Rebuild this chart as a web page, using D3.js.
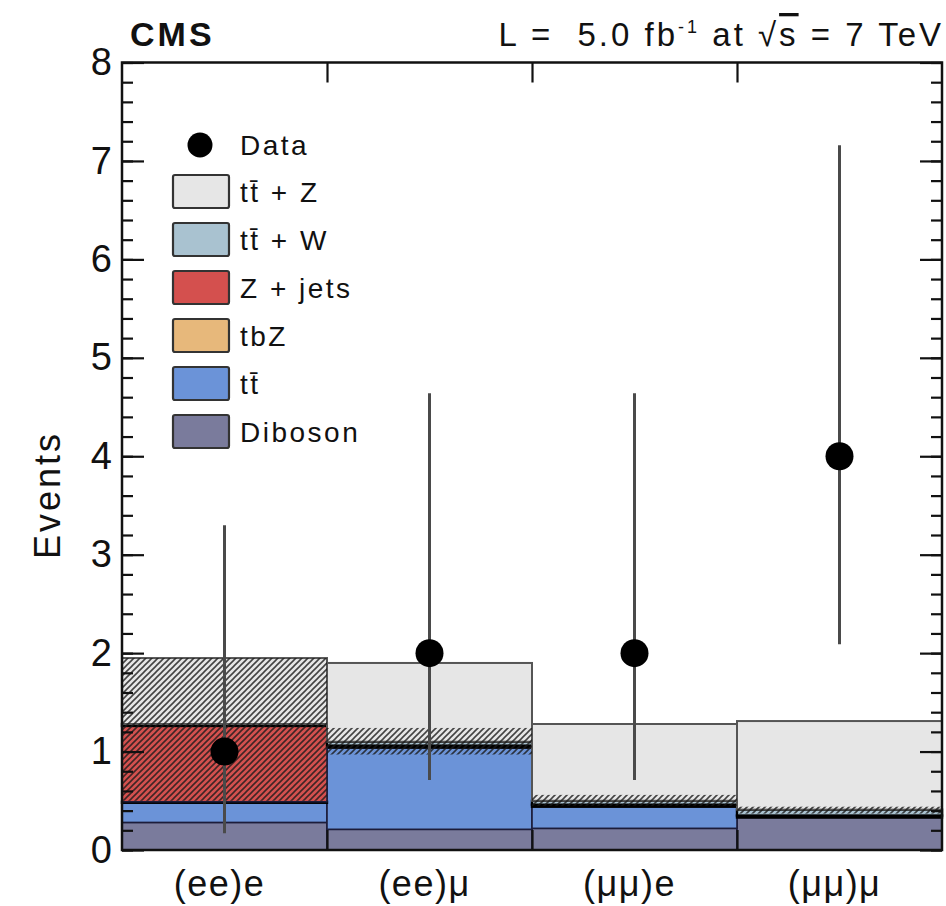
<!DOCTYPE html>
<html><head><meta charset="utf-8">
<script src="https://cdn.jsdelivr.net/npm/d3@7"></script>
<style>
body{margin:0;background:#fff}
svg{display:block}
text{font-family:"Liberation Sans",Arial,Helvetica,sans-serif;fill:#111;white-space:pre}
</style>
</head><body>
<svg id="chart" width="946" height="906"></svg>
<script>
// Trilepton channels: expected backgrounds (stacked) and observed events
const channels = ["(ee)e", "(ee)μ", "(μμ)e", "(μμ)μ"];
const diboson = [0.28, 0.21, 0.22, 0.33];
const ttbar   = [0.20, 0.83, 0.22, 0.00];
const tbz     = [0.01, 0.02, 0.02, 0.02];
const zjets   = [0.77, 0.00, 0.00, 0.00];
const ttw     = [0.02, 0.04, 0.04, 0.06];
const ttz     = [0.67, 0.80, 0.78, 0.90];
// background uncertainty band
const bandLo  = [0.50, 0.97, 0.45, 0.37];
const bandHi  = [1.95, 1.24, 0.56, 0.44];
// observed counts with Poisson intervals
const dataCounts = [1, 2, 2, 4];
const dataLo  = [0.17, 0.71, 0.71, 2.09];
const dataHi  = [3.30, 4.64, 4.64, 7.16];
const yTicks  = [0, 1, 2, 3, 4, 5, 6, 7, 8];

const processes = [
  {key: "diboson", label: "Diboson", values: diboson},
  {key: "ttbar",   label: "tt\u0304", values: ttbar},
  {key: "tbz",     label: "tbZ", values: tbz},
  {key: "zjets",   label: "Z + jets", values: zjets},
  {key: "ttw",     label: "tt\u0304 + W", values: ttw},
  {key: "ttz",     label: "tt\u0304 + Z", values: ttz}
];
const colors = {
  diboson: "#7a7b9c", ttbar: "#6b93d8", tbz: "#e7b87b",
  zjets: "#d4504e", ttw: "#a9c2d0", ttz: "#e6e6e6"
};
const edgeColor = {ttz: "#555", ttw: "#000", tbz: "#000"};
const edgeWidth = {ttz: 2, ttw: 2.4, tbz: 2.4};

const svg = d3.select("#chart");
const plotL = 122, plotR = 942, plotT = 62.5, plotB = 850;

const x = d3.scaleBand().domain(channels).range([plotL, plotR]).paddingInner(0).paddingOuter(0);
const xEdge = d3.scaleLinear().domain([0, channels.length]).range([plotL, plotR]);
const y = d3.scaleLinear().domain([0, 8]).range([plotB, plotT]);

// hatch pattern for the uncertainty band
const defs = svg.append("defs");
const pat = defs.append("pattern").attr("id", "hatch")
  .attr("patternUnits", "userSpaceOnUse").attr("width", 6).attr("height", 6);
pat.append("path").attr("d", "M-1,1 l2,-2 M0,6 l6,-6 M5,7 l2,-2")
  .attr("stroke", "#1a1a1a").attr("stroke-width", 1.6).attr("opacity", 0.8);

// stacked histograms
const stackData = channels.map((c, i) => {
  const row = {channel: c};
  processes.forEach(p => row[p.key] = p.values[i]);
  return row;
});
const stacked = d3.stack().keys(processes.map(p => p.key))(stackData);

const gStack = svg.append("g");
stacked.forEach(layer => {
  gStack.selectAll(null).data(layer).join("rect")
    .attr("x", d => x(d.data.channel))
    .attr("width", x.bandwidth())
    .attr("y", d => y(d[1]))
    .attr("height", d => Math.max(0, y(d[0]) - y(d[1])))
    .attr("fill", colors[layer.key])
    .attr("stroke", edgeColor[layer.key] || "#1c1c3a")
    .attr("stroke-width", edgeWidth[layer.key] || 1.6);
});

// uncertainty band
svg.append("g").selectAll("rect").data(channels).join("rect")
  .attr("x", c => x(c))
  .attr("width", x.bandwidth())
  .attr("y", (c, i) => y(bandHi[i]))
  .attr("height", (c, i) => y(bandLo[i]) - y(bandHi[i]))
  .attr("fill", "url(#hatch)");

// observed data
const gData = svg.append("g");
gData.selectAll("line").data(channels).join("line")
  .attr("x1", c => x(c) + x.bandwidth() / 2)
  .attr("x2", c => x(c) + x.bandwidth() / 2)
  .attr("y1", (c, i) => y(dataLo[i]))
  .attr("y2", (c, i) => y(dataHi[i]))
  .attr("stroke", "#4a4a4a").attr("stroke-width", 3);
gData.selectAll("circle").data(channels).join("circle")
  .attr("cx", c => x(c) + x.bandwidth() / 2)
  .attr("cy", (c, i) => y(dataCounts[i]))
  .attr("r", 14).attr("fill", "#000");

// axes
const minor = d3.range(0, 8.001, 0.2);
function styleAxis(g) {
  g.select(".domain").remove();
  g.selectAll(".tick line").attr("stroke", "#111").attr("stroke-width", 2.2);
}
svg.append("g").attr("transform", `translate(${plotL},0)`)
  .call(d3.axisLeft(y).tickValues(minor).tickSize(-11).tickFormat(""))
  .call(styleAxis);
svg.append("g").attr("transform", `translate(${plotL},0)`)
  .call(d3.axisLeft(y).tickValues(yTicks).tickSize(-22).tickPadding(10).tickFormat(d3.format("d")))
  .call(styleAxis)
  .call(g => g.selectAll("text").attr("font-size", 38).attr("fill", "#111"));
svg.append("g").attr("transform", `translate(${plotR},0)`)
  .call(d3.axisRight(y).tickValues(minor).tickSize(-11).tickFormat(""))
  .call(styleAxis);
svg.append("g").attr("transform", `translate(${plotR},0)`)
  .call(d3.axisRight(y).tickValues(yTicks).tickSize(-22).tickFormat(""))
  .call(styleAxis);
svg.append("g").attr("transform", `translate(0,${plotT})`)
  .call(d3.axisTop(xEdge).tickValues([1, 2, 3]).tickSize(-20).tickFormat(""))
  .call(styleAxis);
svg.append("g").attr("transform", `translate(0,${plotB})`)
  .call(d3.axisBottom(xEdge).tickValues([1, 2, 3]).tickSize(-20).tickFormat(""))
  .call(styleAxis);
svg.append("g").attr("transform", `translate(0,${plotB})`)
  .call(d3.axisBottom(x).tickSize(0).tickPadding(20))
  .call(g => g.select(".domain").remove())
  .call(g => g.selectAll("text").attr("font-size", 36).attr("letter-spacing", 1.5)
    .attr("dx", -5).attr("fill", "#111"));

// frame
svg.append("rect").attr("x", plotL).attr("y", plotT)
  .attr("width", plotR - plotL).attr("height", plotB - plotT)
  .attr("fill", "none").attr("stroke", "#111").attr("stroke-width", 2.5);

// axis title
svg.append("text").attr("transform", `translate(60,495) rotate(-90)`)
  .attr("text-anchor", "middle").attr("font-size", 36).attr("letter-spacing", 3).text("Events");

// header
svg.append("text").attr("x", 130).attr("y", 46).attr("font-size", 34)
  .attr("font-weight", "bold").attr("letter-spacing", 3).text("CMS");
const hdr = svg.append("text").attr("x", 944).attr("y", 46)
  .attr("text-anchor", "end").attr("font-size", 33).attr("letter-spacing", 3);
hdr.append("tspan").text("L =  5.0 fb");
hdr.append("tspan").attr("font-size", 18).attr("dy", -13).text("-1");
hdr.append("tspan").attr("dy", 13).text(" at \u221A");
hdr.append("tspan").style("text-decoration", "overline").text("s");
hdr.append("tspan").text(" = 7 TeV");

// legend
const lg = svg.append("g");
lg.append("circle").attr("cx", 200).attr("cy", 145).attr("r", 12.5).attr("fill", "#000");
lg.append("text").attr("x", 240).attr("y", 155).attr("font-size", 28)
  .attr("letter-spacing", 2.5).text("Data");
processes.slice().reverse().forEach((p, i) => {
  const yy = 175 + i * 48;
  lg.append("rect").attr("x", 173).attr("y", yy).attr("width", 56).attr("height", 33)
    .attr("rx", 2).attr("fill", colors[p.key]).attr("stroke", "#333").attr("stroke-width", 2.2);
  lg.append("text").attr("x", 240).attr("y", yy + 27).attr("font-size", 28)
    .attr("letter-spacing", 2.5).text(p.label);
});
</script>
</body></html>
